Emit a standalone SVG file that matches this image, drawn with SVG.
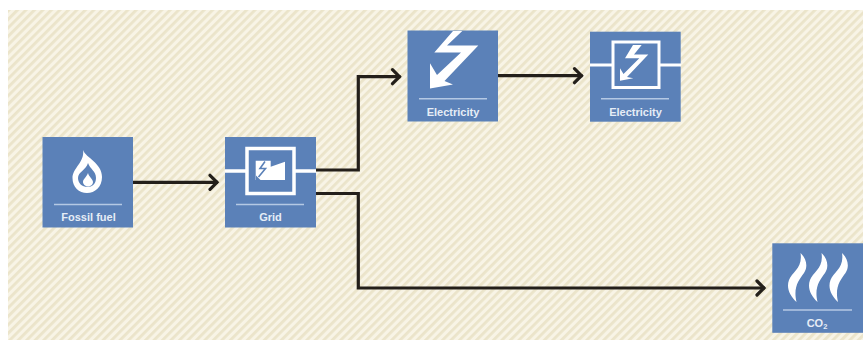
<svg xmlns="http://www.w3.org/2000/svg" width="863" height="340" viewBox="0 0 863 340">
<defs>
<pattern id="hatch" width="6" height="6" patternUnits="userSpaceOnUse" patternTransform="rotate(45)">
<rect width="6" height="6" fill="#f8f4e6"/>
<rect width="2.800" height="6" fill="#ebe4ca"/>
</pattern>
<marker id="arrow" viewBox="0 0 12 18" refX="10.500" refY="9" markerWidth="12" markerHeight="18" markerUnits="userSpaceOnUse" orient="auto">
<path d="M2.500 2L9.500 9L2.500 16" fill="none" stroke="#231f1a" stroke-width="3.200" stroke-linecap="round"/>
</marker>
<path id="wisp" d="M800.500 253C806 258 808.500 266 804 273C799 280 793 287 796.500 302C790 296 786 288 789 280C792 272 803 268 800.500 253Z"/>
</defs>
<style>
.box{fill:#5b81b8}
.rule{stroke:#b5c9e4;stroke-width:1.500;fill:none}
.lbl{font:bold 11px "Liberation Sans",Arial,sans-serif;fill:#e6edf6;text-anchor:middle}
.w{fill:#fff}
.wl{stroke:#fff;fill:none}
.conn{fill:none;stroke:#231f1a;stroke-width:3.200;marker-end:url(#arrow)}
</style>
<rect width="863" height="340" fill="#fff"/>
<rect x="8" y="10" width="855" height="330" fill="url(#hatch)"/>
<g id="connectors">
<path class="conn" d="M133 182.300H218"/>
<path class="conn" d="M316 170H358.300V76.700H400.500"/>
<path class="conn" d="M316 193.500H358.300V288H765"/>
<path class="conn" d="M498 75.700H582.500"/>
</g>
<g id="fossil-fuel">
<rect class="box" x="42.500" y="137" width="90.500" height="90.500"/>
<path class="w" d="M83 150C86 158 102 163 102 177C102 187 95 193 87 193C79 193 72.500 187 72.500 178C72.500 168 85 162 83 150Z"/>
<path class="box" d="M88 163C90 169 96 171 96 178C96 184 92 187 87.500 187C82 187 78 183 78 178C78 172 86 170 88 163Z"/>
<path class="w" d="M88 173C89 177 93 179 93 182C93 185 90 186.500 88 186.500C85 186.500 83 184 83 182C83 179 86 178 88 173Z"/>
<path class="rule" d="M54 204.500H122"/>
<text class="lbl" x="88.500" y="221">Fossil fuel</text>
</g>
<g id="grid">
<rect class="box" x="225" y="137" width="91" height="90.500"/>
<rect class="wl" x="247" y="148.500" width="47" height="45" stroke-width="3.500"/>
<path class="wl" stroke-width="3.500" d="M225 171H246M295 171H316"/>
<path class="w" d="M255.700 160.700H270.700V166.700L285 161.700V180H255.700Z"/>
<path d="M265 161.500L260 168.500H265.500L258.500 177" fill="none" stroke="#5b81b8" stroke-width="1.600"/>
<path class="box" d="M256 175.500V180.500H261Z"/>
<path class="rule" d="M236 204.500H304"/>
<text class="lbl" x="270.500" y="221">Grid</text>
</g>
<g id="electricity-source">
<rect class="box" x="407.500" y="30.500" width="90.500" height="91"/>
<path class="w" d="M453 31H462.300L447 45.500H478.300L444.500 81L453 84.500L430 88.500V63.300L437 75L461 52.500H434.300Z"/>
<path class="rule" d="M419 98.700H487"/>
<text class="lbl" x="453" y="116">Electricity</text>
</g>
<g id="electricity-grid">
<rect class="box" x="590" y="31.700" width="90.700" height="90"/>
<rect class="wl" x="613" y="42" width="46" height="45.500" stroke-width="3"/>
<path class="wl" stroke-width="3" d="M590 65H612M660 65H681"/>
<path class="w" d="M633 45H641.700L634 54.500H648.300L627 77L633.300 78.300L620 80.700V68.300L623.500 74L639.300 58.300H625Z"/>
<path class="rule" d="M601 98.700H669"/>
<text class="lbl" x="635.500" y="116">Electricity</text>
</g>
<g id="co2">
<rect class="box" x="772.300" y="243.300" width="90.700" height="89.500"/>
<use class="w" href="#wisp"/>
<use class="w" href="#wisp" x="21"/>
<use class="w" href="#wisp" x="41.500"/>
<path class="rule" d="M783 310H852"/>
<text class="lbl" x="817" y="327">CO<tspan font-size="7.500" dy="2">2</tspan></text>
</g>
</svg>
